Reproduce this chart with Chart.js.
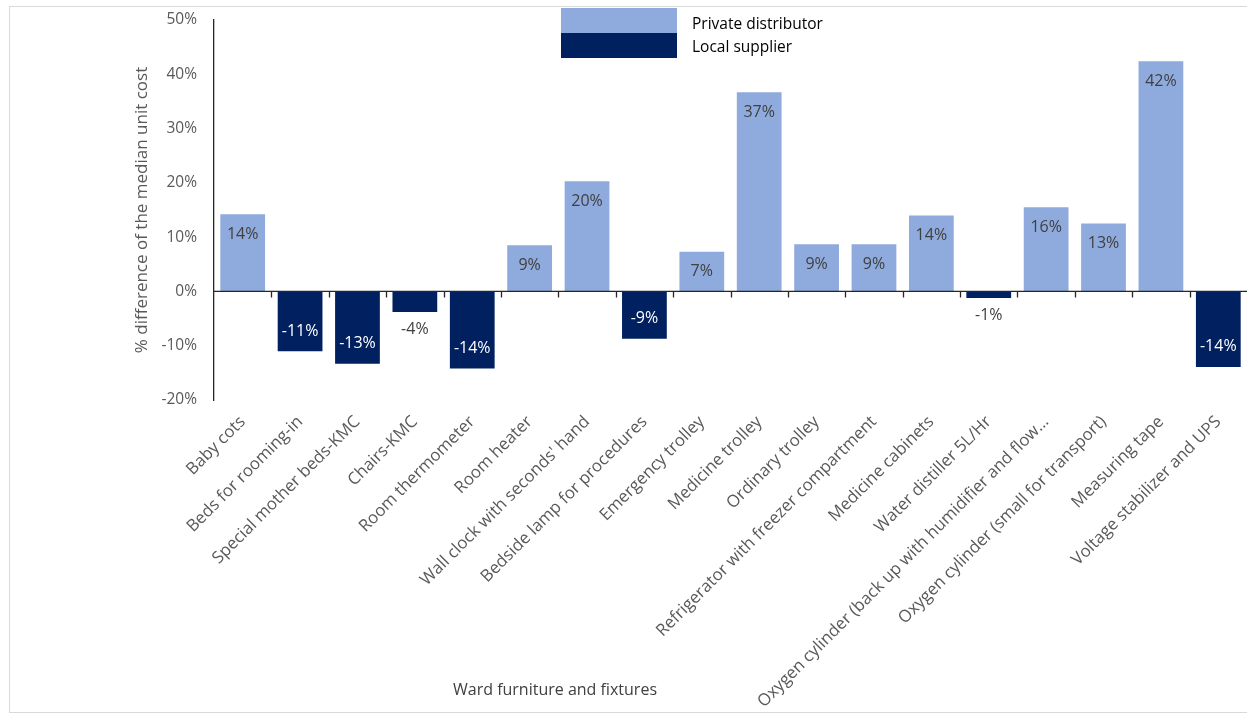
<!DOCTYPE html>
<html>
<head>
<meta charset="utf-8">
<script src="https://cdn.jsdelivr.net/npm/chart.js@4/dist/chart.umd.min.js"></script>
<style>
  html, body { margin: 0; padding: 0; background: #fff; overflow: hidden; }
  #wrap { position: relative; width: 1247px; height: 716px; }
  #frame { position: absolute; left: 9px; top: 6px; width: 1260px; height: 707px; border: 1px solid #d9d9d9; box-sizing: border-box; pointer-events: none; }
  canvas { position: absolute; left: 0; top: 0; }
</style>
</head>
<body>
<div id="wrap">
  <canvas id="c" width="1247" height="716"></canvas>
  <div id="frame"></div>
</div>
<script>
const categories = [
  "Baby cots",
  "Beds for rooming-in",
  "Special mother beds-KMC",
  "Chairs-KMC",
  "Room thermometer",
  "Room heater",
  "Wall clock with seconds' hand",
  "Bedside lamp for procedures",
  "Emergency trolley",
  "Medicine trolley",
  "Ordinary trolley",
  "Refrigerator with freezer compartment",
  "Medicine cabinets",
  "Water distiller 5L/Hr",
  "Oxygen cylinder (back up with humidifier and flow\u2026",
  "Oxygen cylinder (small for transport)",
  "Measuring tape",
  "Voltage stabilizer and UPS"
];
const privateDistributor = [14.2, null, null, null, null, 8.5, 20.3, null, 7.3, 36.7, 8.7, 8.7, 14.0, null, 15.5, 12.5, 42.4, null];
const localSupplier      = [null, -11.0, -13.3, -3.8, -14.2, null, null, -8.7, null, null, null, null, null, -1.2, null, null, null, -13.9];
const yTicks = [-20, -10, 0, 10, 20, 30, 40, 50];
const seriesNames = ["Private distributor", "Local supplier"];
const seriesColors = ["#8FAADC", "#002060"];
const xTitle = "Ward furniture and fixtures";
const yTitle = "% difference of the median unit cost";

const FONT = "'Open Sans', Lato, sans-serif";

const labelPlugin = {
  id: 'labels',
  afterDatasetsDraw(chart) {
    const ctx = chart.ctx;
    const y0 = chart.scales.y.getPixelForValue(0);
    ctx.save();
    ctx.font = "16px " + FONT;
    ctx.textAlign = 'center';
    ctx.textBaseline = 'middle';
    chart.data.datasets.forEach((ds, di) => {
      const meta = chart.getDatasetMeta(di);
      meta.data.forEach((bar, i) => {
        const v = ds.data[i];
        if (v === null || v === undefined) return;
        const txt = Math.round(v) + "%";
        const len = Math.abs(bar.y - y0);
        let ty, color;
        if (len > 30) {
          ty = v >= 0 ? bar.y + 20 : bar.y - 20;
          color = di === 0 ? '#404040' : '#ffffff';
        } else {
          ty = v >= 0 ? bar.y - 16 : bar.y + 17;
          color = '#404040';
        }
        ctx.fillStyle = color;
        ctx.fillText(txt, bar.x, ty);
      });
    });
    ctx.restore();
  }
};

const axisPlugin = {
  id: 'axisExtras',
  afterDatasetsDraw(chart) {
    const ctx = chart.ctx;
    const xs = chart.scales.x, ys = chart.scales.y;
    const y0 = ys.getPixelForValue(0);
    ctx.save();
    ctx.strokeStyle = '#262626';
    ctx.lineWidth = 1.3;
    ctx.beginPath();
    ctx.moveTo(chart.chartArea.left, y0);
    ctx.lineTo(chart.chartArea.right, y0);
    const n = categories.length;
    for (let i = 1; i < n; i++) {
      const x = (xs.getPixelForValue(i - 1) + xs.getPixelForValue(i)) / 2;
      ctx.moveTo(Math.round(x) + 0.5, y0);
      ctx.lineTo(Math.round(x) + 0.5, y0 + 6);
    }
    ctx.stroke();
    ctx.restore();
  },
  afterDraw(chart) {
    const ctx = chart.ctx;
    ctx.save();
    ctx.font = "16px " + FONT;
    ctx.fillStyle = '#404040';
    ctx.textAlign = 'center';
    ctx.textBaseline = 'middle';
    ctx.fillText(xTitle, 555, 690);
    const bx = 561, bw = 116, bh = 25, by = 8;
    seriesNames.forEach((name, i) => {
      ctx.fillStyle = seriesColors[i];
      ctx.fillRect(bx, by + i * bh, bw, bh);
      ctx.fillStyle = '#000000';
      ctx.font = "15.5px " + FONT;
      ctx.textAlign = 'left';
      ctx.fillText(name, 692, 25 + i * 23);
    });
    ctx.restore();
  }
};

new Chart(document.getElementById('c'), {
  type: 'bar',
  data: {
    labels: categories,
    datasets: [
      { label: seriesNames[0], data: privateDistributor, backgroundColor: seriesColors[0], grouped: false, categoryPercentage: 1, barPercentage: 0.78 },
      { label: seriesNames[1], data: localSupplier, backgroundColor: seriesColors[1], grouped: false, categoryPercentage: 1, barPercentage: 0.78 }
    ]
  },
  options: {
    responsive: false,
    animation: false,
    devicePixelRatio: 1,
    layout: { padding: { left: 0, right: 0, top: 20, bottom: 0 } },
    plugins: { legend: { display: false }, tooltip: { enabled: false } },
    scales: {
      x: {
        grid: { display: false, drawTicks: false },
        border: { display: false },
        ticks: {
          autoSkip: false, minRotation: 45, maxRotation: 45, padding: 12,
          color: '#595959', font: { family: FONT, size: 16.8 }
        },
        afterFit(scale) { scale.height = 316; }
      },
      y: {
        min: -20, max: 50,
        afterBuildTicks(scale) { scale.ticks = yTicks.map(v => ({ value: v })); },
        grid: { display: false, drawTicks: true, tickLength: 7, tickColor: '#262626', drawOnChartArea: false, tickWidth: 1.3 },
        border: { display: true, color: '#262626', width: 1.3 },
        ticks: {
          callback: v => v + '%', padding: 10,
          color: '#595959', font: { family: FONT, size: 15.5 }
        },
        title: {
          display: true, text: yTitle, color: '#595959',
          font: { family: FONT, size: 17 }, padding: { top: 132, bottom: 0 }
        },
        afterFit(scale) { scale.width = 214; }
      }
    }
  },
  plugins: [labelPlugin, axisPlugin]
});
</script>
</body>
</html>
